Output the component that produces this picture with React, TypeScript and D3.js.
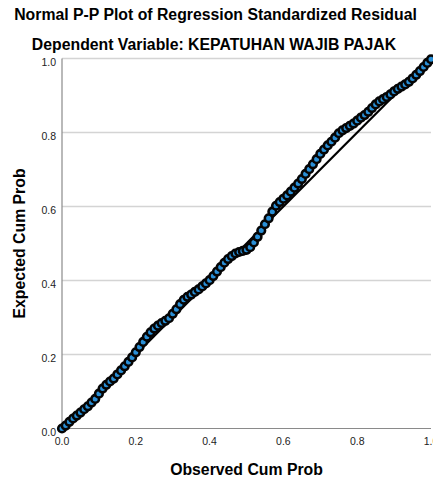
import React from "react";
import * as d3 from "d3";

const title = "Normal P-P Plot of Regression Standardized Residual";
const subtitle = "Dependent Variable: KEPATUHAN WAJIB PAJAK";
const xLabel = "Observed Cum Prob";
const yLabel = "Expected Cum Prob";
const ticks = [0, 0.2, 0.4, 0.6, 0.8, 1.0];

const observed = [
  0.0, 0.01, 0.02, 0.03, 0.04, 0.05, 0.06, 0.07, 0.08, 0.09,
  0.1, 0.11, 0.12, 0.13, 0.14, 0.15, 0.16, 0.17, 0.18, 0.19,
  0.2, 0.21, 0.22, 0.23, 0.24, 0.25, 0.26, 0.27, 0.28, 0.29,
  0.3, 0.31, 0.32, 0.33, 0.34, 0.35, 0.36, 0.37, 0.38, 0.39,
  0.4, 0.41, 0.42, 0.43, 0.44, 0.45, 0.46, 0.47, 0.48, 0.49,
  0.5, 0.51, 0.52, 0.53, 0.54, 0.55, 0.56, 0.57, 0.58, 0.59,
  0.6, 0.61, 0.62, 0.63, 0.64, 0.65, 0.66, 0.67, 0.68, 0.69,
  0.7, 0.71, 0.72, 0.73, 0.74, 0.75, 0.76, 0.77, 0.78, 0.79,
  0.8, 0.81, 0.82, 0.83, 0.84, 0.85, 0.86, 0.87, 0.88, 0.89,
  0.9, 0.91, 0.92, 0.93, 0.94, 0.95, 0.96, 0.97, 0.98, 0.99, 1.0,
];

const expected = [
  0.0, 0.008, 0.018, 0.027, 0.035, 0.043, 0.052, 0.06, 0.07, 0.08,
  0.094, 0.108, 0.118, 0.127, 0.135, 0.146, 0.157, 0.168, 0.18, 0.192,
  0.206, 0.22, 0.234, 0.248, 0.26, 0.27, 0.278, 0.285, 0.291, 0.298,
  0.31, 0.322, 0.336, 0.348, 0.356, 0.362, 0.369, 0.376, 0.384, 0.392,
  0.401, 0.412, 0.424, 0.436, 0.448, 0.458, 0.466, 0.473, 0.477, 0.48,
  0.483, 0.49, 0.503, 0.518, 0.535, 0.552, 0.568, 0.586, 0.602, 0.612,
  0.621, 0.63, 0.64, 0.651, 0.662, 0.674, 0.688, 0.701, 0.714, 0.728,
  0.742, 0.754, 0.765, 0.775, 0.786, 0.798, 0.806, 0.812, 0.818, 0.824,
  0.832, 0.84, 0.847, 0.856, 0.866, 0.876, 0.884, 0.89, 0.896, 0.903,
  0.911, 0.918, 0.924, 0.93, 0.937, 0.946, 0.956, 0.966, 0.977, 0.988, 0.998,
];

export default function App() {
  const W = 433;
  const H = 480;
  const x = d3.scaleLinear().domain([0, 1]).range([62, 431]);
  const y = d3.scaleLinear().domain([0, 1]).range([428.5, 58.5]);
  const font = "'Liberation Sans', Arial, sans-serif";
  const fmt = d3.format(".1f");
  const line = d3.line<number>()
    .x((d) => x(d))
    .y((d) => y(d));

  return (
    <svg
      width={W}
      height={H}
      style={{ position: "absolute", left: 0, top: 0, background: "#fff" }}
    >
      <rect x={0} y={0} width={W} height={H} fill="#fff" />
      <text x={215.5} y={20} textAnchor="middle" fontFamily={font} fontWeight="bold" fontSize={15.8} fill="#000">
        {title}
      </text>
      <text x={214} y={50} textAnchor="middle" fontFamily={font} fontWeight="bold" fontSize={15.8} fill="#000">
        {subtitle}
      </text>

      {ticks.filter((t) => t > 0).map((t) => (
        <line key={"g" + t} x1={x(0)} x2={x(1)} y1={y(t)} y2={y(t)} stroke="#d4d4d4" strokeWidth={1.5} />
      ))}

      <line x1={x(0)} x2={x(0)} y1={y(0)} y2={y(1)} stroke="#8a8a8a" strokeWidth={1.2} />
      <line x1={x(0)} x2={x(1)} y1={y(0)} y2={y(0)} stroke="#8a8a8a" strokeWidth={1.2} />

      {ticks.map((t) => (
        <text key={"yl" + t} x={56} y={y(t) + 7} textAnchor="end" fontFamily={font} fontSize={10.5} fill="#222">
          {fmt(t)}
        </text>
      ))}
      {ticks.map((t) => (
        <text key={"xl" + t} x={x(t)} y={445} textAnchor="middle" fontFamily={font} fontSize={10.5} fill="#222">
          {fmt(t)}
        </text>
      ))}

      <path d={line([0, 1]) || ""} stroke="#000" strokeWidth={2.2} fill="none" />

      {observed.map((o, i) => (
        <circle
          key={"p" + i}
          cx={x(o)}
          cy={y(expected[i])}
          r={3.8}
          fill="#2a8fd6"
          stroke="#050505"
          strokeWidth={2.6}
        />
      ))}

      <text x={246.5} y={475} textAnchor="middle" fontFamily={font} fontWeight="bold" fontSize={15.8} fill="#000">
        {xLabel}
      </text>
      <text
        transform={`translate(25,${243.5}) rotate(-90)`}
        textAnchor="middle"
        fontFamily={font}
        fontWeight="bold"
        fontSize={15.8}
        fill="#000"
      >
        {yLabel}
      </text>
    </svg>
  );
}
